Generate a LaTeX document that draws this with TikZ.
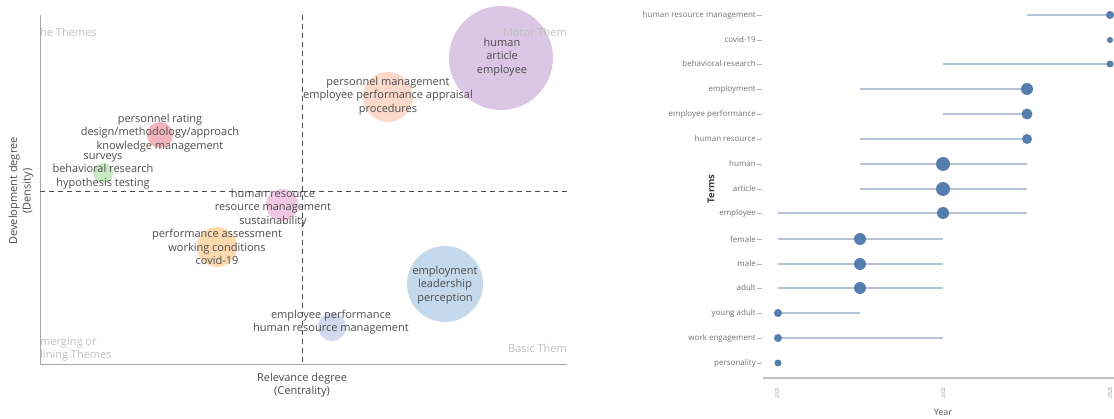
\documentclass[tikz,border=0pt]{standalone}
\usepackage{fontspec}
\setmainfont{Open Sans}
\usepackage{xcolor}
\definecolor{motorpurple}{HTML}{DCC6E6}
\definecolor{peach}{HTML}{FBD9CB}
\definecolor{rosered}{HTML}{F2B5BE}
\definecolor{softgreen}{HTML}{C9E8C4}
\definecolor{pinkish}{HTML}{F1C8E4}
\definecolor{softorange}{HTML}{FCD9AE}
\definecolor{basicblue}{HTML}{C4D9EC}
\definecolor{lavblue}{HTML}{D3D9EE}
\definecolor{dotblue}{HTML}{557EAF}
\definecolor{rangeblue}{HTML}{B7C2D4}

\begin{document}
\begin{tikzpicture}[x=1pt,y=-1pt,
	bubble/.style={circle,inner sep=0pt,draw=none},
	lbl/.style={align=center,text=black!70,font=\fontsize{11}{13.6}\selectfont},
	quad/.style={text=black!25,font=\fontsize{11}{13.6}\selectfont},
	axlbl/.style={text=black!70,font=\fontsize{11}{13.6}\selectfont},
	term/.style={anchor=east,text=black!55,inner sep=1pt,font=\fontsize{8}{9}\selectfont},
	spanline/.style={rangeblue,line width=1.4pt},
	termdot/.style={dotblue}]

	\useasboundingbox (0,0) rectangle (1114,419);

	% axes of the thematic map
	\coordinate (origin) at (40,365);
	\coordinate (ytop) at (40,15);
	\coordinate (xend) at (567,365);
	\draw[black!35,line width=1pt] (ytop) -- (origin) -- (xend);

	% quadrant borders
	\coordinate (vtop) at (302,15);
	\coordinate (vbot) at (302,365);
	\coordinate (hleft) at (40,191);
	\coordinate (hright) at (567,191);
	\draw[black!70,dash pattern=on 5pt off 4pt,line width=0.9pt] (vtop) -- (vbot);
	\draw[black!70,dash pattern=on 5pt off 4pt,line width=0.9pt] (hleft) -- (hright);

	% clusters
	\node[bubble,fill=motorpurple,minimum size=104pt] (motor) at (501,58) {};
	\node[bubble,fill=peach,minimum size=50pt] (personnel) at (388,97) {};
	\node[bubble,fill=rosered,minimum size=26pt] (rating) at (160,135) {};
	\node[bubble,fill=softgreen,minimum size=20pt] (surveys) at (103,173) {};
	\node[bubble,fill=pinkish,minimum size=32pt] (hr) at (282,205) {};
	\node[bubble,fill=softorange,minimum size=40pt] (assess) at (217,247) {};
	\node[bubble,fill=basicblue,minimum size=76pt] (basic) at (445,284) {};
	\node[bubble,fill=lavblue,minimum size=28pt] (empperf) at (332,327) {};

	% quadrant names
	\node[quad,anchor=west,inner sep=0pt] (niche) at (40,32) {he Themes};
	\node[quad,anchor=east,inner sep=0pt] (motorq) at (567,32) {Motor Them};
	\node[quad,anchor=west,inner sep=0pt] (emerg1) at (40,343) {merging or};
	\node[quad,anchor=west,inner sep=0pt] (emerg2) at (40,356) {lining Themes};
	\node[quad,anchor=east,inner sep=0pt] (basicq) at (567,348) {Basic Them};

	% cluster labels
	\node[lbl] (motorTxt) at (502,57) {human\\article\\employee};
	\node[lbl] (personnelTxt) at (388,96) {personnel management\\employee performance appraisal\\procedures};
	\node[lbl] (ratingTxt) at (160,133) {personnel rating\\design/methodology/approach\\knowledge management};
	\node[lbl] (surveysTxt) at (103,171) {surveys\\behavioral research\\hypothesis testing};
	\node[lbl] (hrTxt) at (273,208) {human resource\\resource management\\sustainability};
	\node[lbl] (assessTxt) at (217,247) {performance assessment\\working conditions\\covid-19};
	\node[lbl] (basicTxt) at (445,285) {employment\\leadership\\perception};
	\node[lbl] (empperfTxt) at (331,322) {employee performance\\human resource management};

	% axis titles
	\node[axlbl,align=center] (relev) at (302,385) {Relevance degree\\(Centrality)};
	\node[axlbl,align=center,rotate=90] (devel) at (21,191) {Development degree\\(Density)};

	% trend topics: axis
	\coordinate (tleft) at (763,378);
	\coordinate (tright) at (1114,378);
	\draw[black!25,line width=1.4pt] (tleft) -- (tright);
	\node[rotate=90,text=black!45,font=\fontsize{5}{6}\selectfont] (y1) at (777,393) {2021};
	\node[rotate=90,text=black!45,font=\fontsize{5}{6}\selectfont] (y2) at (943,393) {2022};
	\node[rotate=90,text=black!45,font=\fontsize{5}{6}\selectfont] (y3) at (1110,393) {2023};
	\node[text=black!65,font=\fontsize{9}{10}\selectfont] (year) at (943,412) {Year};
	\node[rotate=90,text=black!75,font=\bfseries\fontsize{9.5}{10}\selectfont] (terms) at (711,189) {Terms};

	% trend topics: 2023
	\node[term] (t1) at (757,15) {human resource management};
	\draw[black!30] (757,15) -- (762,15);
	\draw[spanline] (1027,15) -- (1110,15);
	\fill[termdot] (1110,15) circle (4pt);

	\node[term] (t2) at (757,40) {covid-19};
	\draw[black!30] (757,40) -- (762,40);
	\fill[termdot] (1110,40) circle (3pt);

	\node[term] (t3) at (757,64) {behavioral research};
	\draw[black!30] (757,64) -- (762,64);
	\draw[spanline] (943,64) -- (1110,64);
	\fill[termdot] (1110,64) circle (3.5pt);

	% trend topics: late 2022
	\node[term] (t4) at (757,89) {employment};
	\draw[black!30] (757,89) -- (762,89);
	\draw[spanline] (860,89) -- (1027,89);
	\fill[termdot] (1027,89) circle (6pt);

	\node[term] (t5) at (757,114) {employee performance};
	\draw[black!30] (757,114) -- (762,114);
	\draw[spanline] (943,114) -- (1027,114);
	\fill[termdot] (1027,114) circle (5.5pt);

	\node[term] (t6) at (757,139) {human resource};
	\draw[black!30] (757,139) -- (762,139);
	\draw[spanline] (860,139) -- (1027,139);
	\fill[termdot] (1027,139) circle (5pt);

	% trend topics: 2022
	\node[term] (t7) at (757,164) {human};
	\draw[black!30] (757,164) -- (762,164);
	\draw[spanline] (860,164) -- (1027,164);
	\fill[termdot] (943,164) circle (7pt);

	\node[term] (t8) at (757,189) {article};
	\draw[black!30] (757,189) -- (762,189);
	\draw[spanline] (860,189) -- (1027,189);
	\fill[termdot] (943,189) circle (7pt);

	\node[term] (t9) at (757,213) {employee};
	\draw[black!30] (757,213) -- (762,213);
	\draw[spanline] (778,213) -- (1027,213);
	\fill[termdot] (943,213) circle (6pt);

	% trend topics: late 2021
	\node[term] (t10) at (757,239) {female};
	\draw[black!30] (757,239) -- (762,239);
	\draw[spanline] (778,239) -- (943,239);
	\fill[termdot] (860,239) circle (6pt);

	\node[term] (t11) at (757,264) {male};
	\draw[black!30] (757,264) -- (762,264);
	\draw[spanline] (778,264) -- (943,264);
	\fill[termdot] (860,264) circle (6pt);

	\node[term] (t12) at (757,288) {adult};
	\draw[black!30] (757,288) -- (762,288);
	\draw[spanline] (778,288) -- (943,288);
	\fill[termdot] (860,288) circle (6pt);

	% trend topics: 2021
	\node[term] (t13) at (757,313) {young adult};
	\draw[black!30] (757,313) -- (762,313);
	\draw[spanline] (778,313) -- (860,313);
	\fill[termdot] (778,313) circle (4pt);

	\node[term] (t14) at (757,338) {work engagement};
	\draw[black!30] (757,338) -- (762,338);
	\draw[spanline] (778,338) -- (943,338);
	\fill[termdot] (778,338) circle (4pt);

	\node[term] (t15) at (757,363) {personality};
	\draw[black!30] (757,363) -- (762,363);
	\fill[termdot] (778,363) circle (3.5pt);

\end{tikzpicture}
\end{document}
